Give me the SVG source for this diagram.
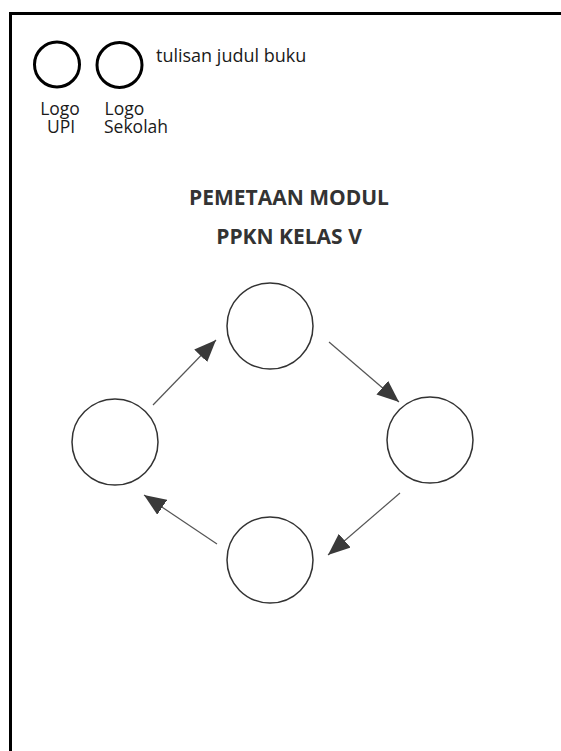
<svg xmlns="http://www.w3.org/2000/svg" width="561" height="751" viewBox="0 0 561 751">
  <style>
    .frame { fill: none; stroke: #000; stroke-width: 3; }
    .logo { fill: #fff; stroke: #000; stroke-width: 3; }
    .node { fill: #fff; stroke: #333; stroke-width: 1.5; }
    .txt { font-family: "Open Sans", "Noto Sans", sans-serif; font-size: 17.5px; fill: #1a1a1a; }
    .head-txt { font-size: 18px; }
    .title { font-family: "Open Sans", "Noto Sans", sans-serif; font-size: 21px; font-weight: bold; fill: #333; text-anchor: middle; }
    .link { stroke: #555; stroke-width: 1.2; fill: none; marker-end: url(#head); }
  </style>
  <defs>
    <marker id="head" markerUnits="userSpaceOnUse" markerWidth="22" markerHeight="18" viewBox="0 0 22 18" refX="22" refY="9" orient="auto">
      <path d="M0,0 L22,9 L0,18 Z" fill="#3a3a3a"/>
    </marker>
  </defs>

  <rect width="561" height="751" fill="#fff"/>

  <!-- page border, open to the right and bottom -->
  <rect class="frame" x="10.5" y="13.5" width="600" height="800"/>

  <!-- header: logos and book title -->
  <g id="logo-upi">
    <circle class="logo" cx="57" cy="64.5" r="22.5"/>
    <text class="txt" x="60" y="115" text-anchor="middle">Logo</text>
    <text class="txt" x="61" y="133" text-anchor="middle">UPI</text>
  </g>
  <g id="logo-sekolah">
    <circle class="logo" cx="119.5" cy="65" r="22.5"/>
    <text class="txt" x="104.5" y="115">Logo</text>
    <text class="txt" x="104" y="133">Sekolah</text>
  </g>
  <g id="judul-buku">
    <text class="txt head-txt" x="156" y="62">tulisan judul buku</text>
  </g>

  <g id="judul">
    <text class="title" x="289" y="205">PEMETAAN MODUL</text>
    <text class="title" x="289" y="244">PPKN KELAS V</text>
  </g>

  <!-- cycle connectors -->
  <g id="connectors">
    <line class="link" x1="153" y1="405" x2="216" y2="340"/>
    <line class="link" x1="329" y1="342" x2="399" y2="402"/>
    <line class="link" x1="400" y1="493" x2="328" y2="555"/>
    <line class="link" x1="217" y1="544" x2="144" y2="495"/>
  </g>

  <!-- cycle nodes -->
  <g id="node-top"><circle class="node" cx="270" cy="326" r="43"/></g>
  <g id="node-right"><circle class="node" cx="430" cy="440" r="43"/></g>
  <g id="node-bottom"><circle class="node" cx="270" cy="560" r="43"/></g>
  <g id="node-left"><circle class="node" cx="115" cy="442" r="43"/></g>
</svg>
